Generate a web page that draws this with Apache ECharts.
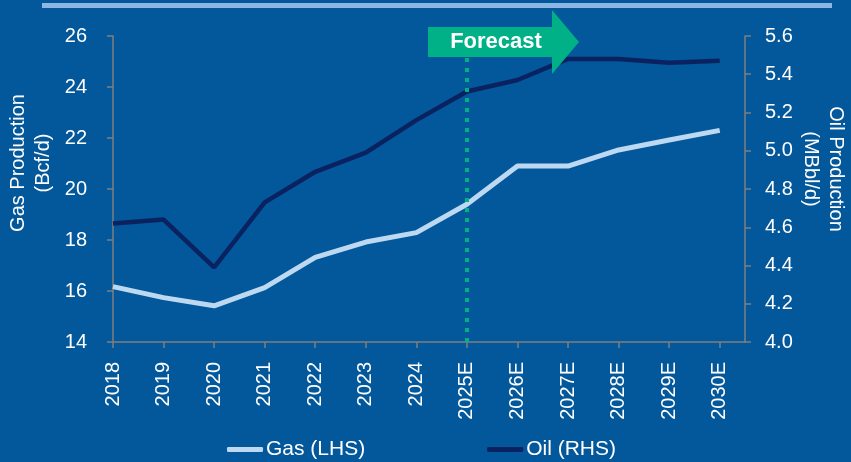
<!DOCTYPE html>
<html>
<head>
<meta charset="utf-8">
<style>
  html, body { margin: 0; padding: 0; background: #03579b; }
  #chart { width: 851px; height: 462px; }
</style>
<script src="https://cdn.jsdelivr.net/npm/echarts@6/dist/echarts.min.js"></script>
</head>
<body>
<div id="chart"></div>
<script>
const years = ['2018', '2019', '2020', '2021', '2022', '2023', '2024',
  '2025E', '2026E', '2027E', '2028E', '2029E', '2030E'];
const gasValues = [16.17, 15.74, 15.42, 16.13, 17.32, 17.92, 18.29, 19.40, 20.90, 20.90, 21.53, 21.92, 22.30];
const oilValues = [4.62, 4.64, 4.39, 4.73, 4.89, 4.99, 5.16, 5.31, 5.37, 5.48, 5.48, 5.46, 5.47];
const forecastIndex = 7;

const FONT = 'Liberation Sans, Arial, sans-serif';
const AXIS_GREY = '#7f7f7f';
const WHITE = '#ffffff';
const GAS_COLOR = '#bdd9f2';
const OIL_COLOR = '#0b2261';

const chart = echarts.init(document.getElementById('chart'));

const tickIdx = years.map((_, i) => i);

chart.setOption({
  backgroundColor: '#03579b',
  textStyle: { fontFamily: FONT },
  grid: { left: 113, right: 106, top: 36, bottom: 120 },
  legend: {
    left: 222,
    top: 434,
    icon: 'roundRect',
    itemWidth: 36,
    itemHeight: 5,
    itemGap: 122,
    textStyle: { color: WHITE, fontSize: 21, fontFamily: FONT, padding: [0, 0, 0, -2] },
    data: ['Gas (LHS)', 'Oil (RHS)'],
  },
  xAxis: {
    type: 'value',
    min: 0,
    max: 12.5,
    interval: 1,
    splitLine: { show: false },
    axisLine: { lineStyle: { color: AXIS_GREY, width: 1.5 } },
    axisTick: { length: 6, lineStyle: { color: AXIS_GREY, width: 1.5 }, customValues: tickIdx },
    axisLabel: {
      customValues: tickIdx,
      rotate: 90,
      margin: 20,
      color: WHITE,
      fontSize: 20,
      fontFamily: FONT,
      formatter: (v) => years[v] || '',
    },
  },
  yAxis: [
    {
      type: 'value',
      min: 14,
      max: 26,
      interval: 2,
      position: 'left',
      splitLine: { show: false },
      axisLine: { show: true, lineStyle: { color: AXIS_GREY, width: 1.5 } },
      axisTick: { show: true, length: 6, lineStyle: { color: AXIS_GREY, width: 1.5 } },
      axisLabel: { color: WHITE, fontSize: 20, fontFamily: FONT, margin: 26 },
    },
    {
      type: 'value',
      min: 4.0,
      max: 5.6,
      interval: 0.2,
      position: 'right',
      splitLine: { show: false },
      axisLine: { show: true, lineStyle: { color: AXIS_GREY, width: 1.5 } },
      axisTick: { show: true, length: 6, lineStyle: { color: AXIS_GREY, width: 1.5 } },
      axisLabel: {
        color: WHITE, fontSize: 20, fontFamily: FONT, margin: 20,
        formatter: (v) => v.toFixed(1),
      },
    },
  ],
  series: [
    {
      name: 'Gas (LHS)',
      type: 'line',
      yAxisIndex: 0,
      symbol: 'none',
      data: gasValues.map((v, i) => [i, v]),
      lineStyle: { color: GAS_COLOR, width: 5 },
      itemStyle: { color: GAS_COLOR },
      markLine: {
        silent: true,
        symbol: 'none',
        label: { show: false },
        lineStyle: { color: '#00b086', width: 4, type: [4, 6] },
        data: [{ xAxis: forecastIndex }],
      },
    },
    {
      name: 'Oil (RHS)',
      type: 'line',
      yAxisIndex: 1,
      symbol: 'none',
      data: oilValues.map((v, i) => [i, v]),
      lineStyle: { color: OIL_COLOR, width: 4.5 },
      itemStyle: { color: OIL_COLOR },
    },
  ],
  graphic: [
    {
      type: 'rect',
      shape: { x: 42, y: 3, width: 790, height: 5 },
      style: { fill: '#8db6e3' },
    },
    {
      type: 'polygon',
      z: 100,
      shape: {
        points: [[428, 27], [552, 27], [552, 10], [579, 42], [552, 74], [552, 57], [428, 57]],
      },
      style: { fill: '#00b086' },
    },
    {
      type: 'text',
      z: 101,
      x: 496,
      y: 42,
      style: {
        text: 'Forecast',
        fill: WHITE,
        font: 'bold 22px ' + FONT,
        textAlign: 'center',
        textVerticalAlign: 'middle',
      },
    },
    {
      type: 'text',
      x: 31,
      y: 163,
      rotation: Math.PI / 2,
      style: {
        text: 'Gas Production\n(Bcf/d)',
        fill: WHITE,
        font: '20px ' + FONT,
        lineHeight: 25,
        textAlign: 'center',
        textVerticalAlign: 'middle',
      },
    },
    {
      type: 'text',
      x: 823,
      y: 169,
      rotation: -Math.PI / 2,
      style: {
        text: 'Oil Production\n(MBbl/d)',
        fill: WHITE,
        font: '20px ' + FONT,
        lineHeight: 25,
        textAlign: 'center',
        textVerticalAlign: 'middle',
      },
    },
  ],
});

window.addEventListener('resize', () => chart.resize());
</script>
</body>
</html>
